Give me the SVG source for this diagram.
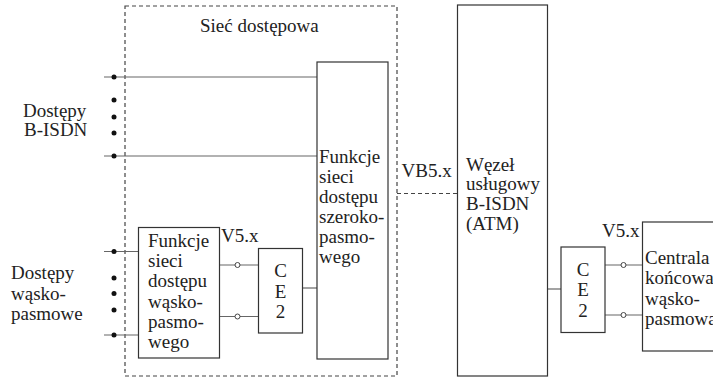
<svg xmlns="http://www.w3.org/2000/svg" width="713" height="381" viewBox="0 0 713 381">
<style>
text{font-family:'Liberation Serif','Times New Roman','DejaVu Serif',serif;font-size:19px;fill:#222}
.box{fill:#fff;stroke:#333;stroke-width:1.2}
.ln{stroke:#666;stroke-width:1.2;fill:none}
.dash{stroke:#444;stroke-width:1.2;fill:none;stroke-dasharray:4 3}
.dot{fill:#111}
.port{fill:#fff;stroke:#444;stroke-width:1}
.c{text-anchor:middle}
</style>
<g id="access-network">
<rect class="dash" x="125" y="6" width="272" height="370"/>
<text x="200" y="32" font-family="Liberation Serif, serif">Sieć dostępowa</text>
</g>
<g id="connectors" font-family="Liberation Serif, serif">
<line class="ln" x1="104" y1="77" x2="317" y2="77"/>
<line class="ln" x1="104" y1="156" x2="317" y2="156"/>
<line class="ln" x1="104" y1="251.5" x2="138" y2="251.5"/>
<line class="ln" x1="104" y1="335" x2="138" y2="335"/>
<line class="ln" x1="219" y1="265" x2="258" y2="265"/>
<line class="ln" x1="219" y1="316.5" x2="258" y2="316.5"/>
<line class="ln" x1="303" y1="288" x2="317" y2="288"/>
<line class="dash" x1="397" y1="193.5" x2="457.5" y2="193.5"/>
<line class="ln" x1="547.5" y1="289" x2="561" y2="289"/>
<line class="ln" x1="605" y1="265" x2="642" y2="265"/>
<line class="ln" x1="605" y1="315" x2="642" y2="315"/>
<circle class="dot" cx="114" cy="77" r="2.5"/>
<circle class="dot" cx="114" cy="100" r="2.5"/>
<circle class="dot" cx="114" cy="117" r="2.5"/>
<circle class="dot" cx="114" cy="133" r="2.5"/>
<circle class="dot" cx="114" cy="156" r="2.5"/>
<circle class="dot" cx="114" cy="251.5" r="2.5"/>
<circle class="dot" cx="114" cy="278" r="2.5"/>
<circle class="dot" cx="114" cy="293.5" r="2.5"/>
<circle class="dot" cx="114" cy="310" r="2.5"/>
<circle class="dot" cx="114" cy="335" r="2.5"/>
<circle class="port" cx="237.5" cy="265" r="2.5"/>
<circle class="port" cx="237.5" cy="316.5" r="2.5"/>
<circle class="port" cx="623.5" cy="265" r="2.5"/>
<circle class="port" cx="623.5" cy="315" r="2.5"/>
<text x="401.5" y="177">VB5.x</text>
<text x="221" y="242">V5.x</text>
<text x="602" y="237">V5.x</text>
</g>
<g id="label-bisdn" font-family="Liberation Serif, serif">
<text x="23" y="116.5">Dostępy</text>
<text x="24" y="136">B-ISDN</text>
</g>
<g id="label-narrowband" font-family="Liberation Serif, serif">
<text x="11" y="279">Dostępy</text>
<text x="11" y="299.5">wąsko-</text>
<text x="11" y="320">pasmowe</text>
</g>
<g id="broadband-functions" font-family="Liberation Serif, serif">
<rect class="box" x="317" y="62" width="71" height="297"/>
<text x="319" y="163">Funkcje</text>
<text x="319" y="183">sieci</text>
<text x="319" y="203">dostępu</text>
<text x="319" y="223">szeroko-</text>
<text x="319" y="243">pasmo-</text>
<text x="319" y="263">wego</text>
</g>
<g id="narrowband-functions" font-family="Liberation Serif, serif">
<rect class="box" x="138.5" y="227.5" width="81" height="130.5"/>
<text x="148" y="246.5">Funkcje</text>
<text x="148" y="267">sieci</text>
<text x="148" y="287">dostępu</text>
<text x="148" y="307.5">wąsko-</text>
<text x="148" y="327.5">pasmo-</text>
<text x="148" y="348">wego</text>
</g>
<g id="ce2-left" font-family="Liberation Serif, serif">
<rect class="box" x="258.5" y="248.5" width="44" height="84.5"/>
<text class="c" x="280.5" y="276.5">C</text>
<text class="c" x="280.5" y="297.5">E</text>
<text class="c" x="280.5" y="318">2</text>
</g>
<g id="atm-node" font-family="Liberation Serif, serif">
<rect class="box" x="457.5" y="5" width="90" height="371"/>
<text x="466" y="170.5">Węzeł</text>
<text x="466" y="190">usługowy</text>
<text x="466" y="210">B-ISDN</text>
<text x="466" y="230">(ATM)</text>
</g>
<g id="ce2-right" font-family="Liberation Serif, serif">
<rect class="box" x="561" y="247" width="44" height="85.5"/>
<text class="c" x="583" y="275.5">C</text>
<text class="c" x="583" y="296">E</text>
<text class="c" x="583" y="317">2</text>
</g>
<g id="exchange" font-family="Liberation Serif, serif">
<rect class="box" x="642.5" y="222" width="80" height="129"/>
<text x="645" y="263.5">Centrala</text>
<text x="645" y="284">końcowa</text>
<text x="645" y="304.5">wąsko-</text>
<text x="645" y="325">pasmowa</text>
</g>
</svg>
